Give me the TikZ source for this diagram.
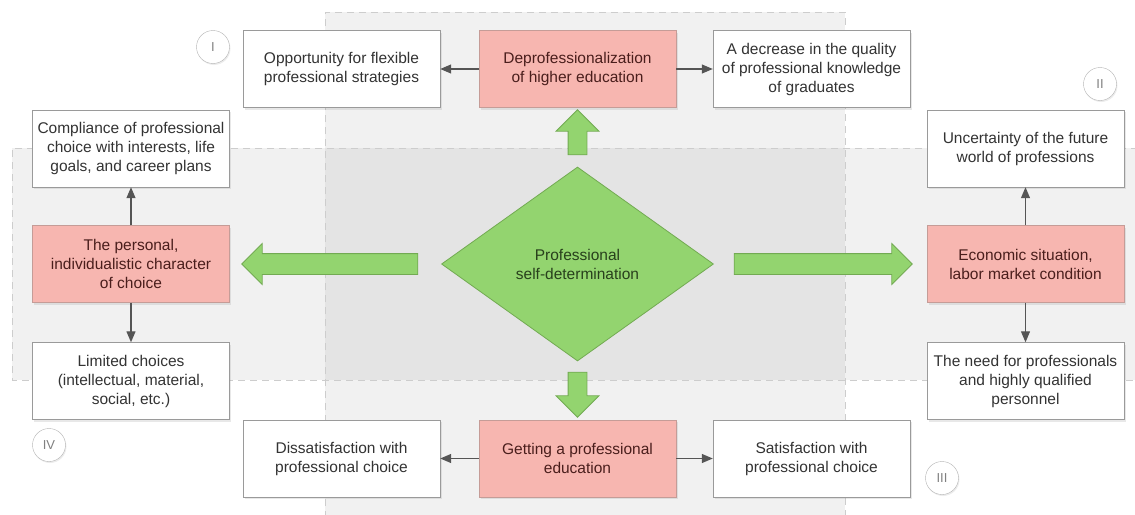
\documentclass[tikz,border=0pt]{standalone}
\usepackage{fontspec}
\setmainfont{Liberation Sans}
\usepackage{tikz}
\usetikzlibrary{shapes.geometric, shapes.arrows, shadows, arrows.meta}

\definecolor{boxline}{HTML}{9A9A9A}
\definecolor{redfill}{HTML}{F7B6B0}
\definecolor{redline}{HTML}{C59C97}
\definecolor{redtext}{HTML}{4A1E1C}
\definecolor{greenfill}{HTML}{93D46F}
\definecolor{greenline}{HTML}{72AA52}
\definecolor{greentext}{HTML}{28401C}
\definecolor{linkgray}{HTML}{555555}
\definecolor{bandline}{HTML}{CDCDCD}

\tikzset{
  box/.style={draw=boxline, fill=white, minimum width=197, minimum height=77, inner sep=2,
    align=center, text=black!80, font=\fontsize{15.5}{19}\selectfont,
    drop shadow={opacity=0.18, shadow xshift=1.5pt, shadow yshift=-2pt}},
  redbox/.style={box, fill=redfill, draw=redline, text=redtext},
  link/.style={draw=linkgray, line width=1.2pt, -{Triangle[length=11pt,width=9pt]}},
  bigarrow/.style={single arrow, fill=greenfill, draw=greenline, line width=0.8pt,
    inner xsep=0, inner ysep=10, single arrow head extend=10},
  uparrow/.style={bigarrow, inner xsep=9, inner ysep=0, single arrow head extend=12},
  quarter/.style={circle, draw=black!30, fill=white, minimum size=33, inner sep=0,
    text=black!50, font=\fontsize{13}{15}\selectfont,
    drop shadow={opacity=0.15, shadow xshift=1pt, shadow yshift=-1.5pt}}
}

\begin{document}
\begin{tikzpicture}[x=1pt, y=-1pt]
    \useasboundingbox (0,0) rectangle (1135,514);
    \clip (0,0) rectangle (1135,514);

    % Background bands
    \fill[black, opacity=0.055] (325,12) rectangle (845,530);
    \fill[black, opacity=0.055] (12,148) rectangle (1150,380);
    \draw[bandline, dash pattern=on 7pt off 5pt] (325,530) -- (325,12) -- (845,12) -- (845,530);
    \draw[bandline, dash pattern=on 7pt off 5pt] (1150,148) -- (12,148) -- (12,380) -- (1150,380);

    % Centre
    \node[diamond, fill=greenfill, draw=greenline, line width=0.8pt, minimum width=272, minimum height=194,
      inner sep=0, align=center, text=greentext, font=\fontsize{15.5}{19}\selectfont] (dia) at (577.5,264)
      {Professional\\self-determination};

    % Top row
    \node[box] (opp) at (341.5,69) {Opportunity for flexible\\professional strategies};
    \node[redbox] (depr) at (577.5,69) {Deprofessionalization\\of higher education};
    \node[box] (decr) at (811.5,69) {A decrease in the quality\\of professional knowledge\\of graduates};

    % Right column
    \node[box] (unc) at (1025.5,148.5) {Uncertainty of the future\\world of professions};
    \node[redbox] (econ) at (1025.5,264) {Economic situation,\\labor market condition};
    \node[box] (need) at (1025.5,381) {The need for professionals\\and highly qualified\\personnel};

    % Left column
    \node[box] (comp) at (131,148.5) {Compliance of professional\\choice with interests, life\\goals, and career plans};
    \node[redbox] (pers) at (131,264) {The personal,\\individualistic character\\of choice};
    \node[box] (lim) at (131,381) {Limited choices\\(intellectual, material,\\social, etc.)};

    % Bottom row
    \node[box] (dis) at (341.5,458.5) {Dissatisfaction with\\professional choice};
    \node[redbox] (get) at (577.5,458.5) {Getting a professional\\education};
    \node[box] (sat) at (811.5,458.5) {Satisfaction with\\professional choice};

    % Quarter marks
    \node[quarter] (q1) at (213,47) {I};
    \node[quarter] (q2) at (1100,84) {II};
    \node[quarter] (q3) at (942,478) {III};
    \node[quarter] (q4) at (49,445) {IV};

    % Green arrows
    \node[uparrow, minimum height=45, shape border rotate=90] (arrU) at (577.5,137) {};
    \node[uparrow, minimum height=45, shape border rotate=270] (arrD) at (577.5,390) {};
    \node[bigarrow, minimum height=176, shape border rotate=180] (arrL) at (335,264) {};
    \node[bigarrow, minimum height=178] (arrR) at (818,264) {};

    % Small arrows
    \draw[link] (depr) -- (opp);
    \draw[link] (depr) -- (decr);
    \draw[link] (econ) -- (unc);
    \draw[link] (econ) -- (need);
    \draw[link] (pers) -- (comp);
    \draw[link] (pers) -- (lim);
    \draw[link] (get) -- (dis);
    \draw[link] (get) -- (sat);
\end{tikzpicture}
\end{document}
